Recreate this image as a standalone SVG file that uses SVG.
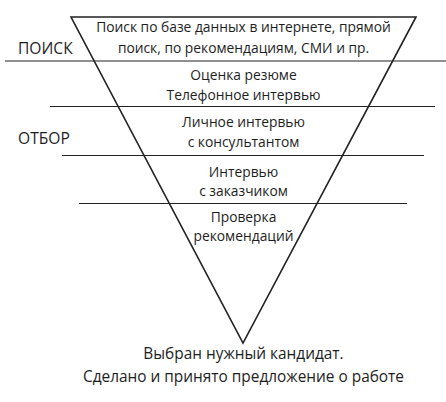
<svg xmlns="http://www.w3.org/2000/svg" width="446" height="402" viewBox="0 0 446 402">
<style>
text{font-family:"Open Sans","Noto Sans","DejaVu Sans",sans-serif;fill:#1e1e1e;}
.c{text-anchor:middle;font-size:13.8px;}
.side{font-size:15.6px;}
.bot{text-anchor:middle;font-size:15.4px;}
.sep{stroke:#222;stroke-width:1.2;fill:none;}
.tri{stroke:#222;stroke-width:1.6;fill:none;stroke-linejoin:miter;}
</style>
<rect width="446" height="402" fill="#fff"/>
<g id="funnel">
<polygon class="tri" points="71,17 416,17 243,343"/>
</g>
<g id="connectors">
<line class="sep" x1="5" y1="61" x2="446" y2="61"/>
<line class="sep" x1="50" y1="106.5" x2="435" y2="106.5"/>
<line class="sep" x1="62" y1="155.5" x2="424" y2="155.5"/>
<line class="sep" x1="79" y1="203.5" x2="407" y2="203.5"/>
</g>
<g id="label-search"><text class="side" x="18" y="54">ПОИСК</text></g>
<g id="label-select"><text class="side" x="18" y="144">ОТБОР</text></g>
<g id="stage-1">
<text class="c" x="243.5" y="31.5">Поиск по базе данных в интернете, прямой</text>
<text class="c" x="243.5" y="52.5">поиск, по рекомендациям, СМИ и пр.</text>
</g>
<g id="stage-2">
<text class="c" x="243.5" y="80">Оценка резюме</text>
<text class="c" x="243.5" y="99.5">Телефонное интервью</text>
</g>
<g id="stage-3">
<text class="c" x="243.5" y="127">Личное интервью</text>
<text class="c" x="243.5" y="146.5">с консультантом</text>
</g>
<g id="stage-4">
<text class="c" x="243.5" y="176.5">Интервью</text>
<text class="c" x="243.5" y="196">с заказчиком</text>
</g>
<g id="stage-5">
<text class="c" x="243.5" y="221.5">Проверка</text>
<text class="c" x="243.5" y="240.5">рекомендаций</text>
</g>
<g id="result">
<text class="bot" x="243.5" y="359">Выбран нужный кандидат.</text>
<text class="bot" x="243.5" y="381.5">Сделано и принято предложение о работе</text>
</g>
</svg>
